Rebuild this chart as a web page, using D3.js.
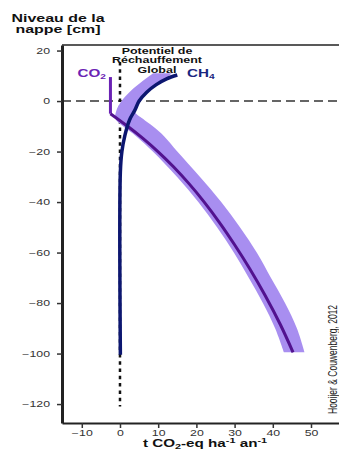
<!DOCTYPE html>
<html><head><meta charset="utf-8">
<script src="https://cdn.jsdelivr.net/npm/d3@7"></script>
<style>
html,body{margin:0;padding:0;background:#fff;}
svg{display:block;font-family:"Liberation Sans",Arial,sans-serif;}
</style></head>
<body>
<svg id="c" width="339" height="450"></svg>
<script>
// ---- data ----
const xTicks = [-10, 0, 10, 20, 30, 40, 50];
const yTicks = [20, 0, -20, -40, -60, -80, -100, -120];

// CO2: vertical stem then curved response
const co2StemX     = [-2.5, -2.5];
const co2StemDepth = [9.5, -5];
const co2X     = [-2.5, 2, 6, 10, 14, 18, 22, 26, 30, 34, 38, 42, 45.3];
const co2Depth = [-5, -10, -14.8, -20.1, -26, -32.6, -39.9, -48, -56.9, -66.5, -77, -88.6, -99.5];

const ch4X     = [0.1, 0.1, 0.5, 1.3, 2.5, 3.9, 5, 7, 9.5, 12.2, 15];
const ch4Depth = [-100.5, -28, -20, -13.5, -7.5, -3.6, 0, 3.5, 6.5, 8.8, 10.3];

const bandDepth = [11, 8, 4, 0, -4, -7, -10, -14, -20, -30, -40, -50, -60, -70, -80, -90, -99.5];
const bandLeft  = [8.7, 6, 2.8, 0.4, -1, -1.2, 0.8, 4.3, 8.6, 14.9, 20.5, 25.4, 29.8, 33.7, 37.4, 40.6, 42.9];
const bandRight = [13.6, 11.2, 7.6, 4.8, 3.8, 6, 8.6, 11.6, 15, 20.9, 26.5, 31.4, 35.8, 39.5, 43.2, 46.3, 48.3];

const gwpLine = [15.5, -121];   // depth range of dotted zero line
const refLine = 0;              // dashed water table line

// ---- layout ----
const SX = 1.45; // horizontal stretch of text
const svg = d3.select("#c");
const x = d3.scaleLinear().domain([-15.18, 57.33]).range([62, 339]);
const y = d3.scaleLinear().domain([-127.5, 22.2]).range([423, 45]);

function stext(px, py, opts) {
  return svg.append("text")
    .attr("transform", `translate(${px},${py}) scale(${SX},1)`)
    .attr("text-anchor", opts.anchor || "middle")
    .attr("font-size", opts.size)
    .attr("font-weight", opts.weight || "bold")
    .attr("fill", opts.fill || "#111");
}

// top border
svg.append("line").attr("x1", 62).attr("x2", 339).attr("y1", 45).attr("y2", 45)
  .attr("stroke", "#222").attr("stroke-width", 1.6);

// dashed water table line
svg.append("line").attr("x1", 62).attr("x2", 339).attr("y1", y(refLine)).attr("y2", y(refLine))
  .attr("stroke", "#333").attr("stroke-width", 1.5).attr("stroke-dasharray", "9,5");

// dotted zero line
svg.append("line").attr("x1", x(0)).attr("x2", x(0)).attr("y1", y(gwpLine[0])).attr("y2", y(gwpLine[1]))
  .attr("stroke", "#111").attr("stroke-width", 2.5).attr("stroke-dasharray", "3.5,3.8");

// band
const bandData = bandDepth.map((d, i) => ({d, l: bandLeft[i], r: bandRight[i]}));
svg.append("path").datum(bandData)
  .attr("d", d3.area().y(p => y(p.d)).x0(p => x(p.l)).x1(p => x(p.r)).curve(d3.curveCatmullRom))
  .attr("fill", "#a88ef0");

// CO2 line
const stem = co2StemX.map((v, i) => [v, co2StemDepth[i]]);
svg.append("path").datum(stem)
  .attr("d", d3.line().x(p => x(p[0])).y(p => y(p[1])))
  .attr("fill", "none").attr("stroke", "#6a22b4").attr("stroke-width", 3);
const co2Data = co2X.map((v, i) => [v, co2Depth[i]]);
svg.append("path").datum(co2Data)
  .attr("d", d3.line().x(p => x(p[0])).y(p => y(p[1])).curve(d3.curveCatmullRom))
  .attr("fill", "none").attr("stroke", "#52128f").attr("stroke-width", 3).attr("stroke-linejoin", "round");

// CH4 line
const ch4Data = ch4X.map((v, i) => [v, ch4Depth[i]]);
svg.append("path").datum(ch4Data)
  .attr("d", d3.line().x(p => x(p[0])).y(p => y(p[1])).curve(d3.curveCatmullRom))
  .attr("fill", "none").attr("stroke", "#0c1670").attr("stroke-width", 3.5);

// axes
const yAxis = svg.append("g").attr("transform", "translate(62,0)")
  .call(d3.axisLeft(y).tickValues(yTicks).tickSize(5).tickPadding(7).tickSizeOuter(0).tickFormat(d3.format("d")));
yAxis.select(".domain").attr("stroke", "#222").attr("stroke-width", 3);
yAxis.selectAll(".tick line").attr("stroke", "#333").attr("stroke-width", 1.5);
yAxis.selectAll(".tick text").attr("font-size", 8.5).attr("fill", "#333")
  .attr("font-family", "Liberation Sans, Arial, sans-serif")
  .attr("x", -12 / SX).attr("transform", `scale(${SX},1)`);

const xAxis = svg.append("g").attr("transform", "translate(0,423)")
  .call(d3.axisBottom(x).tickValues(xTicks).tickSize(5).tickPadding(2).tickSizeOuter(0).tickFormat(d3.format("d")));
xAxis.select(".domain").attr("stroke", "#222").attr("stroke-width", 2.2);
xAxis.selectAll(".tick line").attr("stroke", "#333").attr("stroke-width", 1.5);
xAxis.selectAll(".tick text").attr("font-size", 8.5).attr("fill", "#333")
  .attr("font-family", "Liberation Sans, Arial, sans-serif")
  .attr("transform", `scale(${SX},1)`)
  .attr("x", 0);

// y title
stext(58, 21.5, {size: 11}).text("Niveau de la");
stext(58, 32.5, {size: 11}).text("nappe [cm]");

// GWP label
stext(157, 53.5, {size: 8.6}).text("Potentiel de");
stext(157, 63, {size: 8.6}).text("Réchauffement");
stext(157, 72.5, {size: 8.6}).text("Global");

// CO2 label
const co2L = stext(106, 77, {size: 10.5, anchor: "end", fill: "#6a22b4"});
co2L.append("tspan").text("CO");
co2L.append("tspan").attr("font-size", 7).attr("dy", 2).text("2");

// CH4 label
const ch4L = stext(187, 77, {size: 10.5, anchor: "start", fill: "#1a2680"});
ch4L.append("tspan").text("CH");
ch4L.append("tspan").attr("font-size", 7).attr("dy", 2).text("4");

// x axis label
const xl = stext(205, 447, {size: 10.5});
xl.append("tspan").text("t CO");
xl.append("tspan").attr("font-size", 7.5).attr("dy", 2).text("2");
xl.append("tspan").attr("dy", -2).text("-eq ha");
xl.append("tspan").attr("font-size", 7.5).attr("dy", -4).text("-1");
xl.append("tspan").attr("dy", 4).text(" an");
xl.append("tspan").attr("font-size", 7.5).attr("dy", -4).text("-1");

// citation
svg.append("text")
  .attr("transform", `translate(336.5,414) rotate(-90) scale(1,${SX})`)
  .attr("font-size", 8.5).attr("fill", "#222")
  .attr("font-family", "Liberation Sans Narrow, Liberation Sans, Arial, sans-serif")
  .text("Hooijer & Couwenberg, 2012");
</script>
</body></html>
